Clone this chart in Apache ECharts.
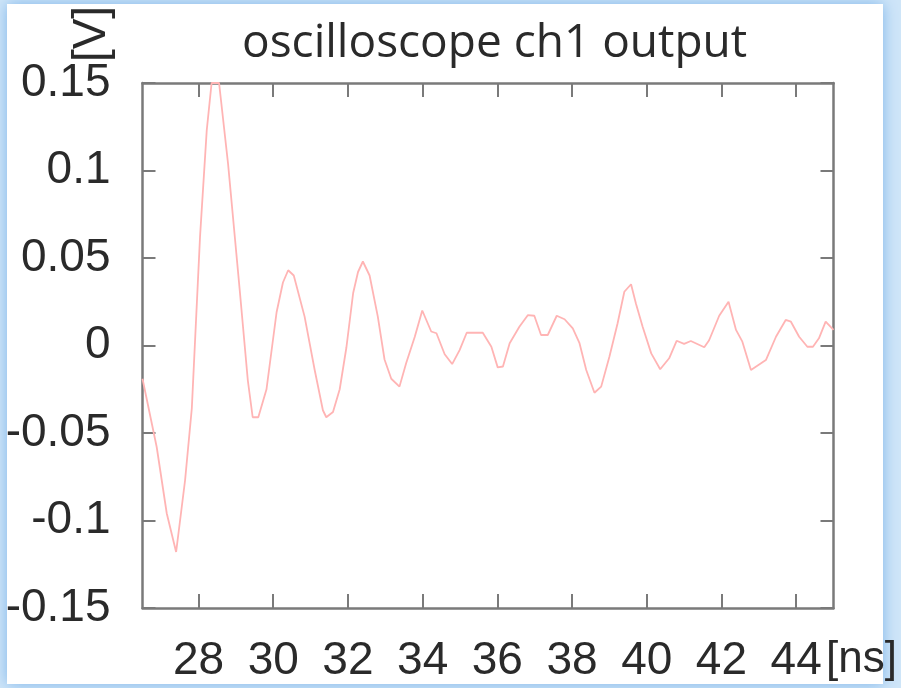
<!DOCTYPE html>
<html>
<head>
<meta charset="utf-8">
<script src="https://cdn.jsdelivr.net/npm/echarts@6/dist/echarts.min.js"></script>
<style>
  html, body { margin: 0; padding: 0; background: #cfe5f8; }
  #main { width: 901px; height: 688px; }
</style>
</head>
<body>
<div id="main"></div>
<script>
var myChart = echarts.init(document.getElementById('main'));

// time axis [ns] and ch1 voltage [V]
var timeNs = [26.5, 26.88, 27.15, 27.40, 27.50, 27.64, 27.82, 28.04, 28.22, 28.35,
    28.55, 28.79, 29.11, 29.32, 29.45, 29.60, 29.82, 30.09, 30.26, 30.40,
    30.55, 30.84, 31.11, 31.33, 31.42, 31.60, 31.78, 31.96, 32.14, 32.27,
    32.40, 32.58, 32.80, 32.98, 33.16, 33.38, 33.56, 33.79, 33.99, 34.23,
    34.37, 34.59, 34.79, 34.99, 35.18, 35.61, 35.84, 36.01, 36.15, 36.33,
    36.59, 36.82, 36.99, 37.17, 37.35, 37.59, 37.80, 38.02, 38.20, 38.38,
    38.60, 38.78, 39.00, 39.22, 39.40, 39.58, 39.71, 39.89, 40.12, 40.36,
    40.60, 40.80, 41.00, 41.18, 41.54, 41.67, 41.94, 42.19, 42.39, 42.56,
    42.79, 43.19, 43.46, 43.72, 43.86, 44.08, 44.30, 44.45, 44.61, 44.79, 45.0];
var voltage = [-0.019, -0.058, -0.096, -0.118, -0.101, -0.077, -0.036, 0.062, 0.123, 0.15,
    0.15, 0.104, 0.030, -0.020, -0.041, -0.041, -0.025, 0.019, 0.036, 0.043,
    0.040, 0.0165, -0.014, -0.037, -0.041, -0.038, -0.025, -0.001, 0.030, 0.042,
    0.048, 0.040, 0.0165, -0.008, -0.019, -0.0235, -0.010, 0.005, 0.020, 0.008,
    0.007, -0.005, -0.0106, -0.0026, 0.0073, 0.0073, -0.0007, -0.0125, -0.012, 0.0013,
    0.0107, 0.0174, 0.017, 0.006, 0.006, 0.017, 0.015, 0.0098, 0.0013, -0.014,
    -0.027, -0.0235, -0.0064, 0.0127, 0.0307, 0.035, 0.024, 0.0107, -0.0045, -0.0136,
    -0.0073, 0.0027, 0.0009, 0.0026, -0.001, 0.003, 0.017, 0.025, 0.0089, 0.0022,
    -0.014, -0.0083, 0.005, 0.0146, 0.0136, 0.005, -0.0007, -0.0007, 0.0041, 0.0136, 0.0089];

var xTicks = [28, 30, 32, 34, 36, 38, 40, 42, 44];
var yTickLabels = ['-0.15', '-0.1', '-0.05', '0', '0.05', '0.1', '0.15'];

var font = 'Liberation Sans, Arial, sans-serif';
var axisColor = '#7a7a7a';
var textColor = '#2a2a2a';

function xAxisDef(pos, showLabel) {
    return {
        type: 'value',
        position: pos,
        min: 26.5,
        max: 45,
        axisLine: { show: true, onZero: false, lineStyle: { color: axisColor, width: 2.5 } },
        axisTick: { show: true, inside: true, length: 14, customValues: xTicks,
            lineStyle: { color: axisColor, width: 2 } },
        axisLabel: { show: showLabel, customValues: xTicks, margin: 30,
            fontSize: 46, fontFamily: font, color: textColor },
        splitLine: { show: false }
    };
}
function yAxisDef(pos, showLabel) {
    return {
        type: 'value',
        position: pos,
        min: -0.15,
        max: 0.15,
        interval: 0.05,
        axisLine: { show: true, onZero: false, lineStyle: { color: axisColor, width: 2.5 } },
        axisTick: { show: true, inside: true, length: 13, lineStyle: { color: axisColor, width: 2 } },
        axisLabel: { show: showLabel, margin: 32, fontSize: 46, fontFamily: font, color: textColor,
            formatter: function (v) { return yTickLabels[Math.round((v + 0.15) / 0.05)]; } },
        splitLine: { show: false }
    };
}

var data = timeNs.map(function (t, i) { return [t, voltage[i]]; });

option = {
    backgroundColor: '#cfe5f8',
    animation: false,
    graphic: [
        { type: 'rect', z: -10, shape: { x: 7, y: 4, width: 876, height: 680 },
          style: { fill: '#ffffff', shadowBlur: 14, shadowColor: '#7fb6ea' } },
        { type: 'text', x: 92, y: 34, rotation: Math.PI / 2,
          style: { text: '[V]', fontSize: 46, fontFamily: font, fill: textColor,
                   align: 'center', verticalAlign: 'middle' } },
        { type: 'text', x: 826, y: 660,
          style: { text: '[ns]', fontSize: 44, fontFamily: font, fill: textColor,
                   align: 'left', verticalAlign: 'middle' } }
    ],
    title: {
        text: 'oscilloscope ch1 output',
        left: 237,
        top: 16,
        textStyle: { fontSize: 46, fontWeight: 'normal', fontFamily: 'Open Sans, sans-serif', color: textColor }
    },
    grid: { left: 142.5, right: 67.5, top: 83, bottom: 80 },
    xAxis: [xAxisDef('bottom', true), xAxisDef('top', false)],
    yAxis: [yAxisDef('left', true), yAxisDef('right', false)],
    series: [{
        type: 'line',
        data: data,
        showSymbol: false,
        clip: true,
        lineStyle: { color: '#ffb4b4', width: 1.8 }
    }]
};
myChart.setOption(option, true);
</script>
</body>
</html>
